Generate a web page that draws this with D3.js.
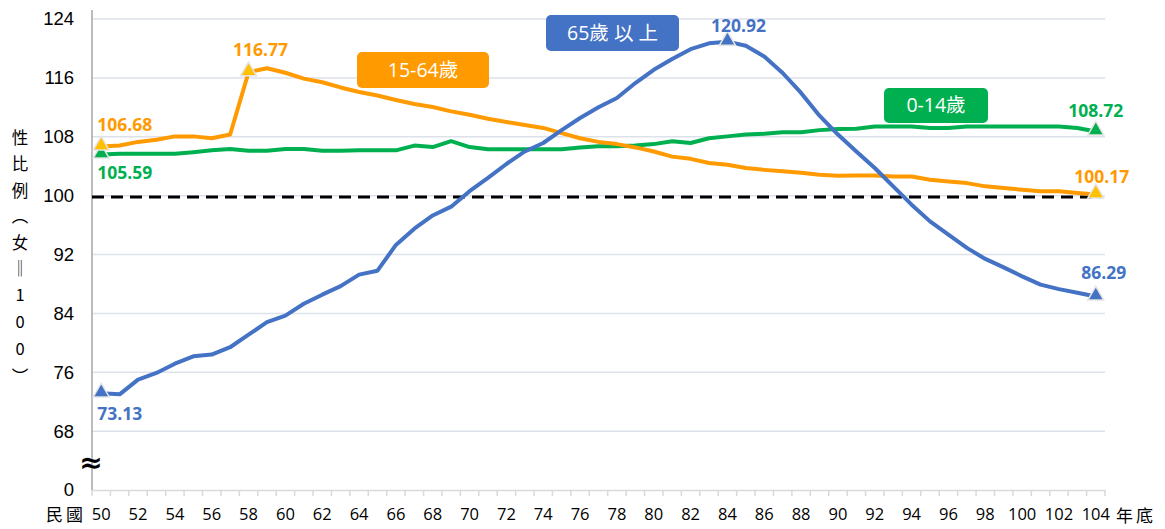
<!DOCTYPE html>
<html lang="zh-Hant">

<head>
    <meta charset="UTF-8">
    <title>性比例</title>
    <script src="https://d3js.org/d3.v7.min.js"></script>
    <style>
        body { margin: 0; background: #fff; }
    </style>
</head>

<body>
    <script>
        // 民國 50 ~ 104 年底
        var years = d3.range(50, 105);
        var xTickLabels = d3.range(50, 105, 2);
        var yTicks = [60, 68, 76, 84, 92, 100, 108, 116, 124];
        var yTickLabels = ["0", "68", "76", "84", "92", "100", "108", "116", "124"];

        var age0to14 = [105.59, 105.7, 105.7, 105.7, 105.7, 105.9, 106.15, 106.33, 106.1, 106.1,
            106.33, 106.33, 106.1, 106.1, 106.15, 106.15, 106.15, 106.8, 106.6, 107.4,
            106.6, 106.3, 106.3, 106.3, 106.3, 106.3, 106.55, 106.7, 106.7, 106.8,
            107.0, 107.4, 107.15, 107.8, 108.05, 108.3, 108.4, 108.6, 108.6, 108.9,
            109.05, 109.1, 109.4, 109.4, 109.4, 109.2, 109.2, 109.4, 109.4, 109.4,
            109.4, 109.4, 109.4, 109.2, 108.72];
        var age15to64 = [106.68, 106.8, 107.3, 107.6, 108.05, 108.05, 107.8, 108.3, 116.77, 117.3,
            116.7, 115.9, 115.4, 114.7, 114.08, 113.6, 113.0, 112.45, 112.04, 111.45,
            111.0, 110.45, 110.0, 109.6, 109.2, 108.5, 107.8, 107.3, 107.0, 106.55,
            106.0, 105.3, 105.0, 104.43, 104.2, 103.75, 103.5, 103.3, 103.1, 102.85,
            102.7, 102.75, 102.75, 102.6, 102.6, 102.16, 101.93, 101.7, 101.26, 101.04,
            100.8, 100.6, 100.6, 100.36, 100.17];
        var age65plus = [73.13, 73.0, 75.0, 75.9, 77.16, 78.16, 78.4, 79.4, 81.1, 82.8,
            83.7, 85.3, 86.54, 87.7, 89.26, 89.8, 93.3, 95.5, 97.3, 98.5,
            100.6, 102.4, 104.3, 106.0, 107.15, 108.9, 110.55, 112.0, 113.26, 115.3,
            117.1, 118.56, 119.9, 120.7, 120.92, 120.37, 118.9, 116.66, 113.95, 110.86,
            108.3, 106.0, 103.75, 101.26, 98.77, 96.5, 94.7, 92.9, 91.4, 90.25,
            89.03, 87.9, 87.3, 86.8, 86.29];
        var refValue = 99.8;

        var width = 1165;
        var height = 529;
        var svg = d3.select("body").append("svg")
            .attr("width", width)
            .attr("height", height)
            .style("font-family", "'Open Sans', sans-serif");

        var xScale = d3.scaleBand()
            .domain(years)
            .range([92, 1105]);
        var yScale = d3.scaleLinear()
            .domain([60, 124])
            .range([490, 19]);
        function px(d, i) { return xScale(years[i]) + xScale.bandwidth() / 2; }

        // 格線
        svg.append("g")
            .selectAll("line")
            .data(yTicks.slice(1))
            .enter()
            .append("line")
            .attr("x1", 92).attr("x2", 1105)
            .attr("y1", d => yScale(d)).attr("y2", d => yScale(d))
            .attr("stroke", "#dde2ea")
            .attr("stroke-width", 1.5);

        // x 軸
        var xaxis = d3.axisBottom(xScale)
            .tickSize(0)
            .tickFormat(d => xTickLabels.indexOf(d) >= 0 ? d : "");
        var gx = svg.append("g")
            .attr("transform", "translate(0, 490)")
            .call(xaxis);
        gx.select(".domain").attr("stroke", "#d9d9d9").attr("stroke-width", 1.5);
        gx.selectAll("text")
            .attr("dy", 0)
            .attr("y", 30)
            .attr("fill", "#000")
            .style("font-size", "16.5px")
            .style("font-family", "'Open Sans', sans-serif");
        // 年與年之間的刻度
        gx.selectAll(".sep")
            .data(years.concat([null]))
            .enter()
            .append("line")
            .attr("class", "sep")
            .attr("x1", (d, i) => 92 + i * xScale.step())
            .attr("x2", (d, i) => 92 + i * xScale.step())
            .attr("y1", 0).attr("y2", 6)
            .attr("stroke", "#d9d9d9")
            .attr("stroke-width", 1.5);

        // y 軸
        var yaxis = d3.axisLeft(yScale)
            .tickValues(yTicks)
            .tickSize(0)
            .tickPadding(18)
            .tickFormat((d, i) => yTickLabels[i]);
        var gy = svg.append("g")
            .attr("transform", "translate(92, 0)")
            .call(yaxis);
        gy.select(".domain").attr("stroke", "#a6a6a6").attr("stroke-width", 1.5)
            .attr("d", "M0,10V490");
        gy.selectAll("text")
            .attr("fill", "#000")
            .style("font-size", "18.5px")
            .style("font-family", "'Liberation Sans', Arial, sans-serif");

        // 斷軸符號
        svg.append("text")
            .attr("x", 91).attr("y", 472)
            .attr("text-anchor", "middle")
            .style("font-size", "28px")
            .style("font-weight", "bold")
            .style("font-family", "'DejaVu Sans', sans-serif")
            .text("≈");

        // 軸標題
        var yTitle = ["性", "比", "例", "︵", "女", "‖", "1", "0", "0", "︶"];
        var yTitlePos = [138, 164, 191, 216, 243, 269, 295, 322, 349, 377];
        svg.append("g")
            .selectAll("text")
            .data(yTitle)
            .enter()
            .append("text")
            .attr("x", 20)
            .attr("y", (d, i) => yTitlePos[i] + 6)
            .attr("text-anchor", "middle")
            .style("font-size", "16.5px")
            .style("font-family", "'Noto Sans CJK TC', sans-serif")
            .text(d => d);
        svg.append("text")
            .attr("x", 66).attr("y", 521)
            .attr("text-anchor", "middle")
            .attr("letter-spacing", 3)
            .style("font-size", "17px")
            .style("font-family", "'Noto Sans CJK TC', sans-serif")
            .text("民國");
        svg.append("text")
            .attr("x", 1136).attr("y", 522)
            .attr("text-anchor", "middle")
            .attr("letter-spacing", 3)
            .style("font-size", "17px")
            .style("font-family", "'Noto Sans CJK TC', sans-serif")
            .text("年底");

        // 100 參考線
        svg.append("line")
            .attr("x1", 92).attr("x2", 1100)
            .attr("y1", yScale(refValue)).attr("y2", yScale(refValue))
            .attr("stroke", "#000")
            .attr("stroke-width", 3)
            .attr("stroke-dasharray", "12,7");

        var series = [
            { name: "0-14歲", values: age0to14, color: "#00b050", marker: "#00b050", marks: [0, 54] },
            { name: "15-64歲", values: age15to64, color: "#ff9a00", marker: "#ffc000", marks: [0, 8, 54] },
            { name: "65歲 以 上", values: age65plus, color: "#4472c4", marker: "#4472c4", marks: [0, 34, 54] }
        ];

        var line = d3.line()
            .x(px)
            .y(d => yScale(d));

        svg.append("g")
            .selectAll("path")
            .data(series)
            .enter()
            .append("path")
            .attr("d", d => line(d.values))
            .attr("fill", "none")
            .attr("stroke", d => d.color)
            .attr("stroke-width", 4)
            .attr("stroke-linejoin", "round");

        var tri = d3.symbol().type(d3.symbolTriangle).size(110);
        series.forEach(function (s) {
            svg.append("g")
                .selectAll("path")
                .data(s.marks)
                .enter()
                .append("path")
                .attr("d", tri)
                .attr("transform", i => "translate(" + px(null, i) + "," + (yScale(s.values[i]) - 1) + ")")
                .attr("fill", s.marker)
                .attr("stroke", "#e4e4e4")
                .attr("stroke-width", 1.5);
        });

        // 數據標籤 [系列, 索引, dx, dy, 對齊]
        var dataLabels = [
            [0, 0, -4, 18, "start"],
            [0, 54, 0, -21, "middle"],
            [1, 0, -4, -22, "start"],
            [1, 8, 12, -22, "middle"],
            [1, 54, 6, -17, "middle"],
            [2, 0, -4, 21, "start"],
            [2, 34, 11, -16, "middle"],
            [2, 54, 8, -24, "middle"]
        ];
        svg.append("g")
            .selectAll("text")
            .data(dataLabels)
            .enter()
            .append("text")
            .attr("x", d => px(null, d[1]) + d[2])
            .attr("y", d => yScale(series[d[0]].values[d[1]]) + d[3])
            .attr("dy", "0.35em")
            .attr("text-anchor", d => d[4])
            .attr("fill", d => series[d[0]].color)
            .style("font-size", "17.5px")
            .style("font-weight", "bold")
            .text(d => series[d[0]].values[d[1]].toFixed(2));

        // 圖例方塊
        var legendBoxes = [
            { s: 0, x: 884, y: 88, w: 104, h: 35 },
            { s: 1, x: 357, y: 52, w: 132, h: 36 },
            { s: 2, x: 546, y: 15, w: 133, h: 36 }
        ];
        var lg = svg.append("g")
            .selectAll("g")
            .data(legendBoxes)
            .enter()
            .append("g");
        lg.append("rect")
            .attr("x", d => d.x).attr("y", d => d.y)
            .attr("width", d => d.w).attr("height", d => d.h)
            .attr("rx", 5)
            .attr("fill", d => series[d.s].color);
        lg.append("text")
            .attr("x", d => d.x + d.w / 2)
            .attr("y", d => d.y + d.h / 2)
            .attr("dy", "0.35em")
            .attr("text-anchor", "middle")
            .attr("fill", "#fff")
            .style("font-size", "19.5px")
            .style("font-family", "'Open Sans', 'Noto Sans CJK TC', sans-serif")
            .text(d => series[d.s].name);
    </script>
</body>

</html>
